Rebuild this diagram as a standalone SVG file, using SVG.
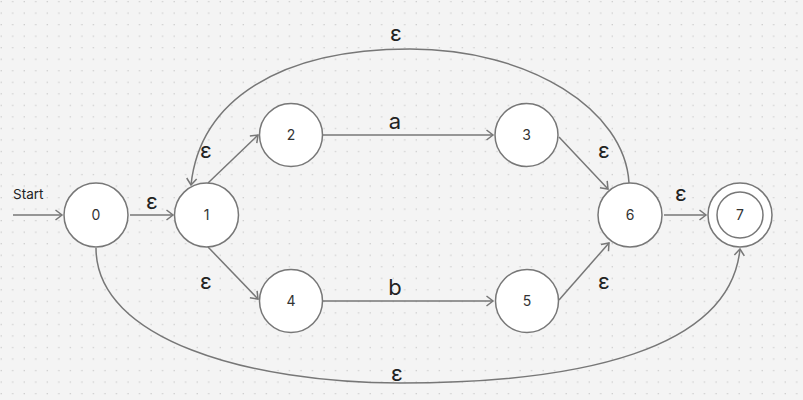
<svg xmlns="http://www.w3.org/2000/svg" width="803" height="400" viewBox="0 0 803 400">
<style>
.node circle{fill:#fff;stroke:#777;stroke-width:1.5}
.node text{font-family:Inter,"Liberation Sans",sans-serif;font-size:14px;fill:#333;text-anchor:middle}
.edge{fill:none;stroke:#777;stroke-width:1.5;marker-end:url(#arr)}
.lbl{font-family:Inter,"Liberation Sans",sans-serif;font-size:22px;fill:#222;text-anchor:middle}
.start{font-family:Inter,"Liberation Sans",sans-serif;font-size:13.5px;fill:#222}
</style>
<defs>
<pattern id="dots" width="11.53" height="11.53" patternUnits="userSpaceOnUse">
<rect x="0.6" y="1" width="1.2" height="1.2" fill="#c6c6c6"/>
</pattern>
<marker id="arr" markerUnits="userSpaceOnUse" markerWidth="14" markerHeight="14" refX="0" refY="0" viewBox="-10 -7 12 14" orient="auto" overflow="visible">
<path d="M-6.5,-5 L0,0 L-6.5,5" fill="none" stroke="#777" stroke-width="1.5" stroke-linejoin="miter"/>
</marker>
</defs>
<rect width="803" height="400" fill="#f4f4f4"/>
<rect width="803" height="400" fill="url(#dots)"/>
<g id="connectors">
<path class="edge" d="M13,215 L62,215"/>
<path class="edge" d="M130,215 L173,215"/>
<path class="edge" d="M208,183 L258,135"/>
<path class="edge" d="M208,247 L258,299"/>
<path class="edge" d="M323,135 L493,135"/>
<path class="edge" d="M323,301 L493,301"/>
<path class="edge" d="M559,137 L608,189"/>
<path class="edge" d="M559,300 L609,243"/>
<path class="edge" d="M664,215 L706,215"/>
<path class="edge" d="M629,183 C625,110 530,49 410,49 C280,49 200,100 191,185"/>
<path class="edge" d="M96,248 C96,340 250,383 400,383 C580,383 730,350 740,249"/>
</g>
<g id="labels">
<text class="start" x="13" y="199">Start</text>
<text class="lbl" x="152" y="209">ε</text>
<text class="lbl" x="206" y="158">ε</text>
<text class="lbl" x="206" y="289">ε</text>
<text class="lbl" x="395" y="129">a</text>
<text class="lbl" x="395" y="295">b</text>
<text class="lbl" x="604" y="158">ε</text>
<text class="lbl" x="604" y="289">ε</text>
<text class="lbl" x="681" y="201">ε</text>
<text class="lbl" x="396" y="41">ε</text>
<text class="lbl" x="397" y="381">ε</text>
</g>
<g id="n0" class="node"><circle cx="96" cy="215" r="32"/><text x="96" y="220">0</text></g>
<g id="n1" class="node"><circle cx="206.5" cy="215" r="32"/><text x="206.5" y="220">1</text></g>
<g id="n2" class="node"><circle cx="291" cy="135" r="31.5"/><text x="291" y="140">2</text></g>
<g id="n3" class="node"><circle cx="526.5" cy="135" r="31.5"/><text x="526.5" y="140">3</text></g>
<g id="n4" class="node"><circle cx="291" cy="301" r="31.5"/><text x="291" y="306">4</text></g>
<g id="n5" class="node"><circle cx="527" cy="301" r="31.5"/><text x="527" y="306">5</text></g>
<g id="n6" class="node"><circle cx="630" cy="215" r="32"/><text x="630" y="220">6</text></g>
<g id="n7" class="node"><circle cx="740" cy="215" r="32"/><circle cx="740" cy="215" r="23"/><text x="740" y="220">7</text></g>
</svg>
